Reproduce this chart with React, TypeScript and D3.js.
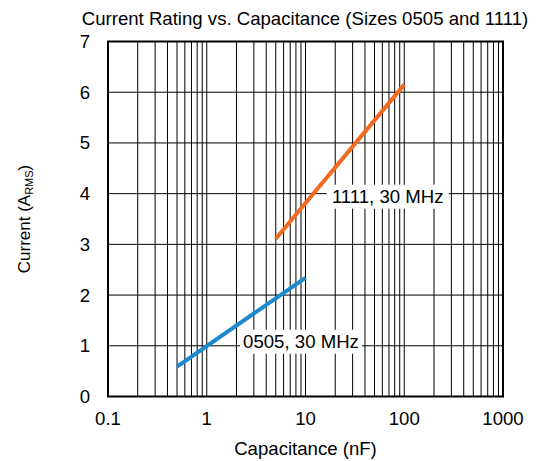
import React from "react";
import * as d3 from "d3";

const xTicks = [0.1, 1, 10, 100, 1000];
const yTicks = [0, 1, 2, 3, 4, 5, 6, 7];
const cap0505 = [0.5, 10];
const cur0505 = [0.59, 2.34];
const cap1111 = [5, 100];
const cur1111 = [3.11, 6.15];
const labels = [
  { text: "1111, 30 MHz", cap: 68, cur: 3.94 },
  { text: "0505, 30 MHz", cap: 9.0, cur: 1.08 },
];

const W = 537, H = 461;
const L = 108, R = 503, T = 41.5, B = 396.5;
const font = "Arial, 'Liberation Sans', Helvetica, sans-serif";
const FS = 18.6;

export default function App() {
  const x = d3.scaleLog().domain([0.1, 1000]).range([L, R]);
  const y = d3.scaleLinear().domain([0, 7]).range([B, T]);
  const minor: number[] = [];
  for (let d = 0.1; d < 1000; d *= 10) for (let k = 2; k <= 9; k++) minor.push(+(d * k).toPrecision(3));
  const line = d3.line<[number, number]>().x((d) => x(d[0])).y((d) => y(d[1]));
  const s1 = cap0505.map((c, i) => [c, cur0505[i]] as [number, number]);
  const s2 = cap1111.map((c, i) => [c, cur1111[i]] as [number, number]);
  return (
    <svg width={W} height={H} style={{ position: "absolute", left: 0, top: 0, background: "#fff" }} fontFamily={font}>
      <rect width={W} height={H} fill="#fff" />
      <text x={305} y={25} textAnchor="middle" fontSize={FS} fill="#000">
        Current Rating vs. Capacitance (Sizes 0505 and 1111)
      </text>
      {minor.concat(xTicks).map((v, i) => (
        <line key={"vx" + i} x1={x(v)} x2={x(v)} y1={T} y2={B} stroke="#000" strokeWidth={1} />
      ))}
      {yTicks.map((v) => (
        <line key={"hy" + v} x1={L} x2={R} y1={y(v)} y2={y(v)} stroke="#000" strokeWidth={1} />
      ))}
      <path d={line(s1) || ""} stroke="#1C89CC" strokeWidth={4} fill="none" />
      <path d={line(s2) || ""} stroke="#F26A21" strokeWidth={4} fill="none" />
      {labels.map((lb) => (
        <g key={lb.text}>
          <rect x={x(lb.cap) - 61} y={y(lb.cur) - 12} width={122} height={24} fill="#fff" />
          <text x={x(lb.cap)} y={y(lb.cur) + 6.5} textAnchor="middle" fontSize={FS} fill="#000">
            {lb.text}
          </text>
        </g>
      ))}
      <rect x={L} y={T} width={R - L} height={B - T} fill="none" stroke="#000" strokeWidth={2} />
      {yTicks.map((v) => (
        <text key={"yl" + v} x={90} y={y(v) + 6.5} textAnchor="end" fontSize={FS} fill="#000">
          {v}
        </text>
      ))}
      {xTicks.map((v) => (
        <text key={"xl" + v} x={x(v)} y={425} textAnchor="middle" fontSize={FS} fill="#000">
          {String(v)}
        </text>
      ))}
      <text x={(L + R) / 2} y={455} textAnchor="middle" fontSize={FS} fill="#000">
        Capacitance (nF)
      </text>
      <text transform={`translate(30,${(T + B) / 2}) rotate(-90)`} textAnchor="middle" fontSize={17} fill="#000">
        Current (A<tspan fontSize={11} dy={3}>RMS</tspan><tspan dy={-3}>)</tspan>
      </text>
    </svg>
  );
}
